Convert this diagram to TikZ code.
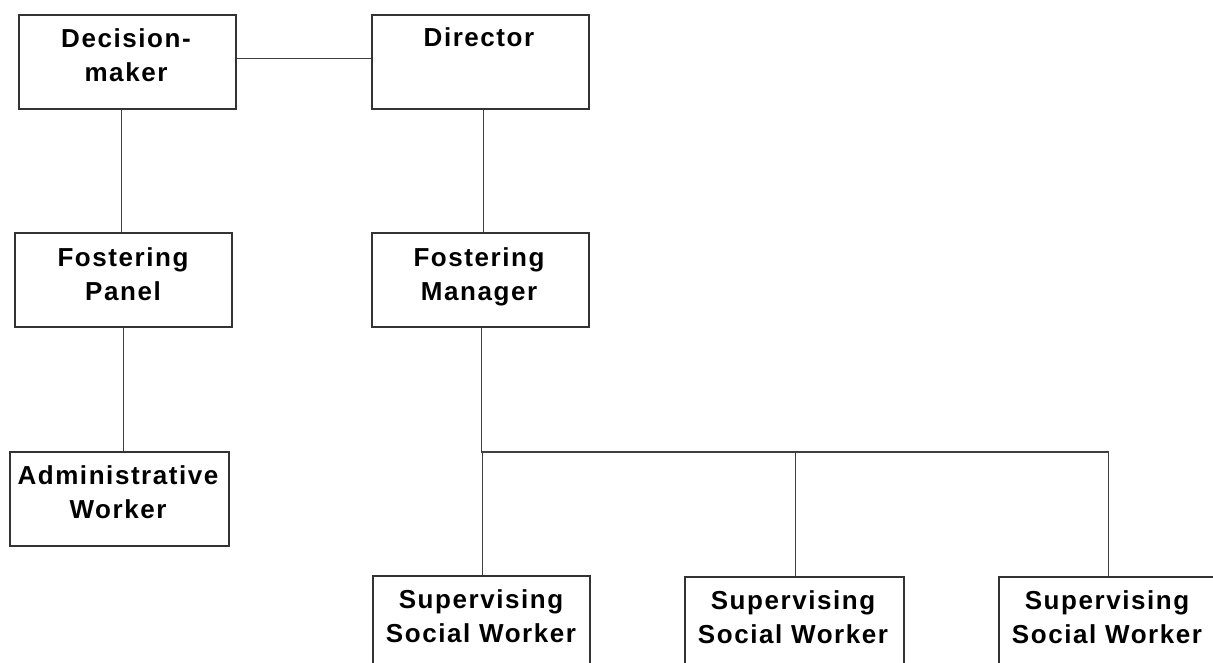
\documentclass[tikz,border=0pt]{standalone}
\usepackage{fontspec}
\newfontfamily\lblfont{Liberation Sans}[LetterSpace=6]
\usetikzlibrary{calc}
\tikzset{
  box/.style={draw=black!80, line width=1.6pt, minimum width=217pt, minimum height=94pt, inner sep=0pt, anchor=north west},
  lbl/.style={font=\lblfont\bfseries\fontsize{26pt}{34pt}\selectfont, align=center, inner sep=0pt, anchor=base, text=black},
  conn/.style={draw=black!75, line width=1.3pt}
}
\begin{document}
\begin{tikzpicture}[x=1pt,y=-1pt]
\useasboundingbox[fill=white] (0,0) rectangle (1213,663);
\clip (0,0) rectangle (1213,663);
% boxes
\node[box] (dm) at (18,14) {};
\node[box] (dir) at (371,14) {};
\node[box] (fp) at (14,232) {};
\node[box] (fm) at (371,232) {};
\node[box, minimum width=219pt] (aw) at (9,451) {};
\node[box] (s1) at (372,575) {};
\node[box, minimum width=219pt] (s2) at (684,576) {};
\node[box] (s3) at (998,576) {};
% labels (anchor = baseline of the last line)
\node[lbl] (tdm) at (126,82) {Decision-\\maker};
\node[lbl] (tdir) at (479,47) {Director};
\node[lbl] (tfp) at (123,300) {Fostering\\Panel};
\node[lbl] (tfm) at (479,300) {Fostering\\Manager};
\node[lbl] (taw) at (118,518) {Administrative\\Worker};
\node[lbl] (ts1) at (481,642) {Supervising\\Social Worker};
\node[lbl] (ts2) at (793,643) {Supervising\\Social Worker};
\node[lbl] (ts3) at (1107,643) {Supervising\\Social Worker};
% connectors
\coordinate (j) at (482,452);
\draw[conn] ([yshift=3pt]dm.east) -- ([yshift=3pt]dm.east -| dir.west);
\draw[conn] ([xshift=-2pt]fp.north) -- ([xshift=-2pt]fp.north |- dm.south);
\draw[conn] (fp.south) -- (fp.south |- aw.north);
\draw[conn] ([xshift=3pt]dir.south) -- ([xshift=3pt]dir.south |- fm.north);
\draw[conn] ([xshift=1.5pt]fm.south) -- ([xshift=1.5pt]fm.south |- j) -- ([xshift=1.5pt]s3.north |- j) -- ([xshift=1.5pt]s3.north);
\draw[conn] ([xshift=1.5pt]s1.north |- j) -- ([xshift=1.5pt]s1.north);
\draw[conn] ([xshift=1.5pt]s2.north |- j) -- ([xshift=1.5pt]s2.north);
\end{tikzpicture}
\end{document}
